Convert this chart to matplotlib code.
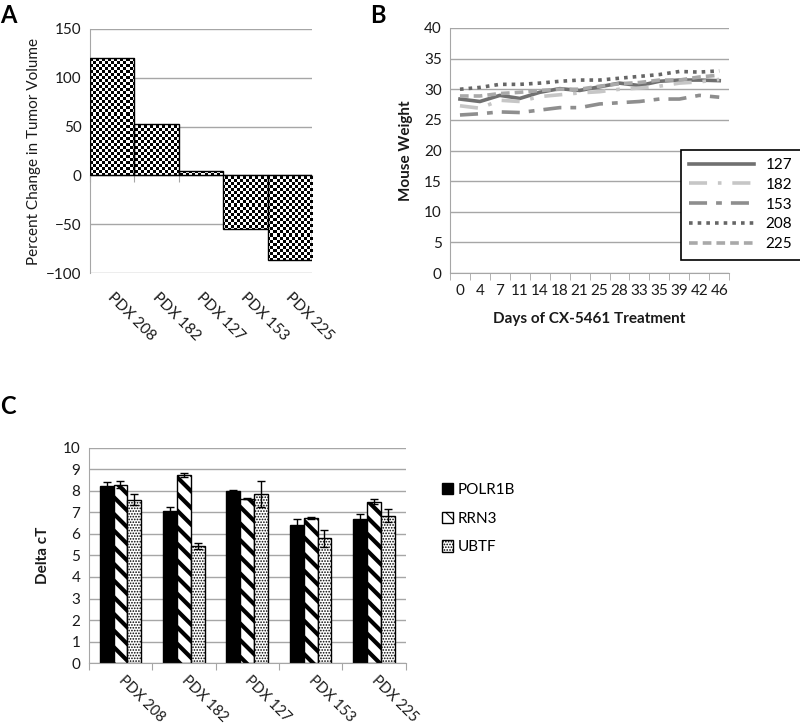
# plot.py - three-panel figure: tumor volume change, mouse weight, delta cT
import numpy as np
import matplotlib
matplotlib.use("Agg")
import matplotlib.pyplot as plt
from matplotlib.transforms import blended_transform_factory

plt.rcParams["font.family"] = ["Lato", "DejaVu Sans"]

# ---------------------------------------------------------------- data

# panel A
pdx_a = ["PDX 208", "PDX 182", "PDX 127", "PDX 153", "PDX 225"]
tumor_change = [120, 53, 5, -55, -87]

# panel B
days = ["0", "4", "7", "11", "14", "18", "21", "25", "28", "33", "35", "39", "42", "46"]
w127 = [28.4, 28.0, 29.0, 28.5, 29.5, 30.1, 29.8, 30.4, 31.0, 30.6, 31.3, 31.5, 31.5, 31.4]
w182 = [27.3, 26.9, 28.2, 28.0, 28.8, 29.1, 29.4, 29.6, 30.0, 30.2, 30.5, 31.0, 31.2, 31.6]
w153 = [25.8, 26.0, 26.3, 26.2, 26.6, 27.0, 27.0, 27.6, 27.8, 28.0, 28.4, 28.4, 29.0, 28.7]
w208 = [30.0, 30.3, 30.8, 30.8, 31.0, 31.3, 31.5, 31.5, 31.8, 32.1, 32.4, 32.9, 32.8, 33.0]
w225 = [28.9, 28.9, 29.3, 29.5, 29.8, 30.0, 30.0, 30.5, 30.9, 31.1, 31.5, 31.5, 32.0, 32.3]

# panel C
pdx_c = ["PDX 208", "PDX 182", "PDX 127", "PDX 153", "PDX 225"]
polr1b = [8.25, 7.05, 8.00, 6.40, 6.70]
polr1b_err = [0.15, 0.20, 0.05, 0.30, 0.25]
rrn3 = [8.30, 8.75, 7.65, 6.75, 7.50]
rrn3_err = [0.15, 0.10, 0.03, 0.05, 0.12]
ubtf = [7.60, 5.45, 7.85, 5.80, 6.85]
ubtf_err = [0.25, 0.15, 0.60, 0.40, 0.30]

GRID = "#a6a6a6"
TXT = "#1a1a1a"


def excel_axes(ax):
    for s in ("top", "right"):
        ax.spines[s].set_visible(False)
    ax.spines["left"].set_color(GRID)
    ax.spines["bottom"].set_color(GRID)
    ax.yaxis.grid(True, color=GRID, lw=1)
    ax.set_axisbelow(True)
    ax.tick_params(axis="y", length=0, labelsize=11, colors=TXT, pad=6)


def category_labels(ax, labels, y, dx=0.0, size=11):
    tr = blended_transform_factory(ax.transData, ax.transAxes)
    for i, lab in enumerate(labels):
        ax.text(i + dx, y, lab, transform=tr, rotation=-45, rotation_mode="anchor",
                ha="left", va="center", fontsize=size, color=TXT)


fig = plt.figure(figsize=(8, 7.25), dpi=100)

# ---------------------------------------------------------------- A
axA = fig.add_axes([0.1125, 0.6234, 0.2775, 0.3366])
excel_axes(axA)
x = np.arange(len(pdx_a))
xlimA = (-0.5, len(pdx_a) - 0.5)
ylimA = (-100, 150)
bars = axA.bar(x, tumor_change, width=1.0, color="white", edgecolor="none")
# checkerboard fill (Excel "small checker board" pattern), ~3 px cells
checker = np.add.outer(np.arange(81), np.arange(74)) % 2
for b in bars:
    im = axA.imshow(checker, cmap="gray", vmin=0, vmax=1, aspect="auto",
                    interpolation="nearest", extent=(*xlimA, *ylimA), zorder=2)
    im.set_clip_path(b)
axA.bar(x, tumor_change, width=1.0, color="none", edgecolor="black", lw=1, zorder=3)
axA.set_ylim(*ylimA)
axA.set_yticks(np.arange(-100, 151, 50))
axA.set_xlim(*xlimA)
axA.spines["bottom"].set_position(("data", 0))
axA.set_xticks(np.arange(-0.5, len(pdx_a), 1.0))
axA.tick_params(axis="x", length=5, color=GRID, labelbottom=False)
category_labels(axA, pdx_a, -0.09, dx=-0.05)
axA.set_ylabel("Percent Change in Tumor Volume", fontsize=11, color=TXT, labelpad=4)

# ---------------------------------------------------------------- B
axB = fig.add_axes([0.5625, 0.6234, 0.349, 0.338])
excel_axes(axB)
xb = np.arange(len(days))
styles = [
    ("127", w127, "#707070", "-"),
    ("182", w182, "#c6c6c6", (0, (5, 3, 1, 3))),
    ("153", w153, "#8e8e8e", (0, (5, 2.5, 1.6, 2.5))),
    ("208", w208, "#666666", (0, (1, 1.4))),
    ("225", w225, "#a9a9a9", (0, (2.4, 1.4))),
]
for lab, vals, col, ls in styles:
    axB.plot(xb, vals, color=col, ls=ls, lw=2.6, label=lab)
axB.set_ylim(0, 40)
axB.set_yticks(np.arange(0, 41, 5))
axB.set_xlim(-0.5, len(days) - 0.5)
axB.set_xticks(xb)
axB.set_xticklabels(days)
axB.set_xticks(np.arange(-0.5, len(days), 1.0), minor=True)
axB.tick_params(axis="x", which="major", length=0, labelsize=11, colors=TXT, pad=8)
axB.tick_params(axis="x", which="minor", length=5, color=GRID)
axB.set_ylabel("Mouse Weight", fontsize=11, fontweight="bold", color=TXT, labelpad=8)
axB.set_xlabel("Days of CX-5461 Treatment", fontsize=11, fontweight="bold",
               color=TXT, labelpad=10)
leg = axB.legend(loc="upper left", bbox_to_anchor=(0.8, 0.535), fontsize=11,
                 handlelength=4.2, labelspacing=0.38, borderpad=0.55,
                 fancybox=False, edgecolor="black", framealpha=1)
leg.get_frame().set_linewidth(1.2)

# ---------------------------------------------------------------- C
axC = fig.add_axes([0.111, 0.0855, 0.396, 0.2966])
excel_axes(axC)
xc = np.arange(len(pdx_c))
bw = 0.22
eb = dict(ecolor="black", elinewidth=1, capsize=3, capthick=1)
axC.bar(xc - bw, polr1b, bw, yerr=polr1b_err, color="black", edgecolor="black",
        lw=1, error_kw=eb, label="POLR1B")
plt.rcParams["hatch.linewidth"] = 3.0
axC.bar(xc, rrn3, bw, yerr=rrn3_err, color="white", edgecolor="black",
        hatch="\\\\", lw=1, error_kw=eb, label="RRN3")
plt.rcParams["hatch.linewidth"] = 0.8
axC.bar(xc + bw, ubtf, bw, yerr=ubtf_err, color="white", edgecolor="black",
        hatch="......", lw=1, error_kw=eb, label="UBTF")
axC.set_ylim(0, 10)
axC.set_yticks(np.arange(0, 11, 1))
axC.set_xlim(-0.5, len(pdx_c) - 0.5)
axC.set_xticks(np.arange(-0.5, len(pdx_c), 1.0))
axC.tick_params(axis="x", length=5, color=GRID, labelbottom=False)
category_labels(axC, pdx_c, -0.07, dx=0.0, size=10.5)
axC.set_ylabel("Delta cT", fontsize=11, fontweight="bold", color=TXT, labelpad=9)
axC.legend(loc="upper left", bbox_to_anchor=(1.07, 0.9), frameon=False, fontsize=11,
           handlelength=0.75, handleheight=0.75, handletextpad=0.3, labelspacing=0.95)

# ---------------------------------------------------------------- panel letters
for lab, px, py in [("A", 0.0, 0.995), ("B", 0.463, 0.995), ("C", 0.0, 0.455)]:
    fig.text(px, py, lab, fontsize=17, fontweight="bold", va="top", ha="left")

fig.savefig("out.png", dpi=100)
